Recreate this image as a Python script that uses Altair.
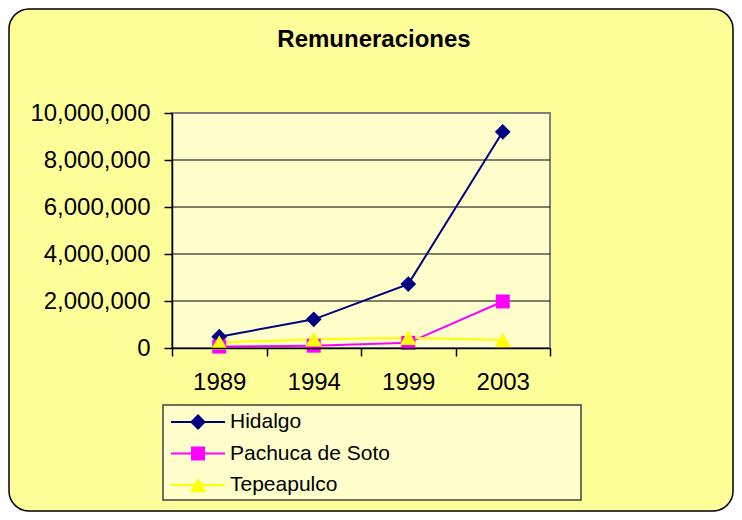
import altair as alt
import pandas as pd

years = ["1989", "1994", "1999", "2003"]
series = ["Hidalgo", "Pachuca de Soto", "Tepeapulco"]
hidalgo = [480000, 1220000, 2720000, 9200000]
pachuca = [60000, 100000, 220000, 1980000]
tepeapulco = [230000, 370000, 440000, 340000]
y_ticks = [0, 2000000, 4000000, 6000000, 8000000, 10000000]
grid_vals = [2000000, 4000000, 6000000, 8000000]
colors = ["#000080", "#FF00FF", "#FFFF00"]
shapes = ["diamond", "square", "triangle-up"]
sizes = [250, 196, 280]

rows = []
for name, vals in zip(series, [hidalgo, pachuca, tepeapulco]):
    for yr, v in zip(years, vals):
        rows.append({"series": name, "year": yr, "value": v})
df = pd.DataFrame(rows)
legend_df = pd.DataFrame({"series": series})
one = pd.DataFrame({"a": [0]})
grid_df = pd.DataFrame({"value": grid_vals})

W, H = 378, 235
FONT = "Liberation Sans"

yscale = alt.Scale(domain=[0, 10000000], nice=False)
xenc = alt.X("year:N", sort=years,
             scale=alt.Scale(type="band", paddingInner=0, paddingOuter=0),
             bandPosition=0.5,
             axis=alt.Axis(title=None, labelFontSize=24, labelFont=FONT, labelColor="black",
                           tickBand="extent", tickSize=8, tickColor="black", tickWidth=1.5,
                           domainColor="black", domainWidth=1.5, labelPadding=14,
                           labelAngle=0, grid=False, zindex=1))
color = alt.Color("series:N", scale=alt.Scale(domain=series, range=colors), legend=None)
shape = alt.Shape("series:N", scale=alt.Scale(domain=series, range=shapes), legend=None)
size = alt.Size("series:N", scale=alt.Scale(type="ordinal", domain=series, range=sizes), legend=None)

outer = alt.Chart(one).mark_rect(fill="#FFFF99", stroke="black", strokeWidth=1.5,
                                 cornerRadius=20).encode(
    x=alt.value(-163), x2=alt.value(561), y=alt.value(-104), y2=alt.value(398))

plotbg = alt.Chart(one).mark_rect(fill="#FFFFCC", stroke="#808080", strokeWidth=2).encode(
    x=alt.value(0), x2=alt.value(W), y=alt.value(0), y2=alt.value(H))

grid = alt.Chart(grid_df).mark_rule(color="black", strokeWidth=1).encode(
    x=alt.value(0), x2=alt.value(W),
    y=alt.Y("value:Q", scale=yscale, axis=None))

lines = alt.Chart(df).mark_line(strokeWidth=2).encode(
    x=xenc,
    y=alt.Y("value:Q", scale=yscale,
            axis=alt.Axis(title=None, values=y_ticks, format=",d", labelFontSize=24,
                          labelFont=FONT, labelColor="black", tickSize=8, tickColor="black",
                          tickWidth=1.5, domainColor="black", domainWidth=1.5,
                          labelPadding=14, grid=False, zindex=1)),
    color=color,
    detail="series:N")

points = alt.Chart(df).mark_point(filled=True, opacity=1).encode(
    x=xenc,
    y=alt.Y("value:Q", scale=yscale, axis=None),
    color=color, shape=shape, size=size)

legend_y = alt.Y("series:N", scale=alt.Scale(type="point", domain=series, range=[309, 372], padding=0),
                 axis=None)
legend_box = alt.Chart(one).mark_rect(fill="#FFFFCC", stroke="#404040", strokeWidth=1.5).encode(
    x=alt.value(-9), x2=alt.value(409), y=alt.value(292), y2=alt.value(387))
legend_lines = alt.Chart(legend_df).mark_rule(strokeWidth=2).encode(
    x=alt.value(-1), x2=alt.value(53), y=legend_y, color=color)
legend_pts = alt.Chart(legend_df).mark_point(filled=True, opacity=1).encode(
    x=alt.value(26), y=legend_y, color=color, shape=shape, size=size)
legend_txt = alt.Chart(legend_df).mark_text(align="left", baseline="middle", fontSize=21,
                                            font=FONT, color="black").encode(
    x=alt.value(58), y=legend_y, text="series:N")

title = alt.Chart(one).mark_text(text="Remuneraciones", fontSize=24, fontWeight="bold",
                                 font=FONT, color="black", align="center",
                                 baseline="alphabetic").encode(
    x=alt.value(202), y=alt.value(-66))

chart = alt.layer(outer, plotbg, grid, lines, points, legend_box, legend_lines, legend_pts,
                  legend_txt, title).resolve_scale(y="independent").properties(
    width=W, height=H,
    padding={"left": 164, "top": 105, "right": 184, "bottom": 164},
    autosize=alt.AutoSizeParams(type="none"),
    background="white",
).configure_view(stroke=None)

chart.save("out.html", embed_options={"renderer": "svg", "actions": False})
